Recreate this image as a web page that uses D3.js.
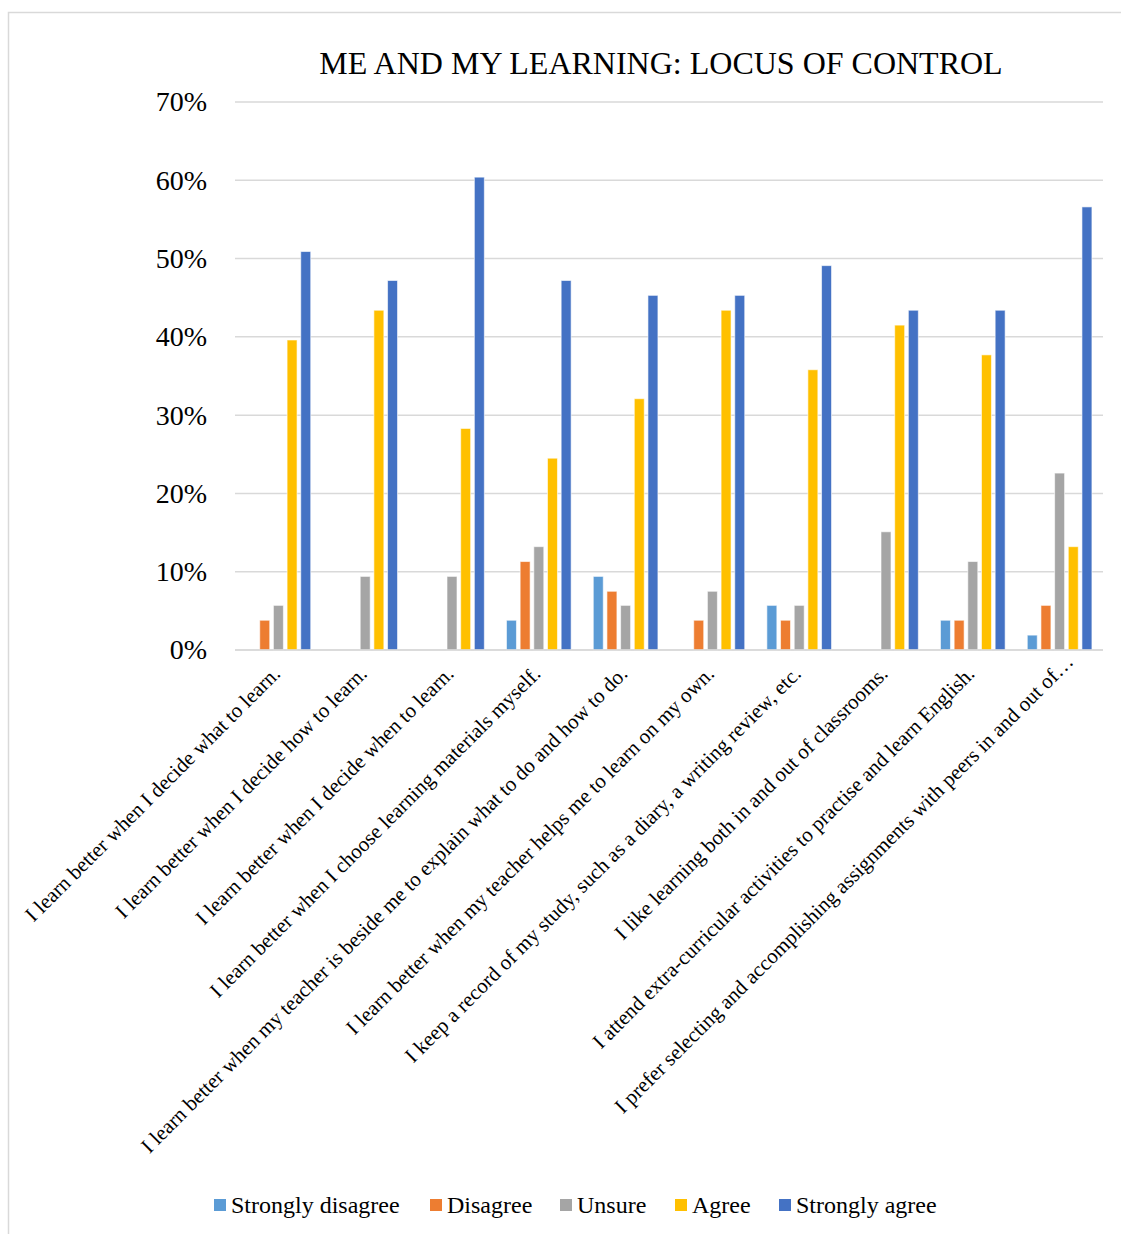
<!DOCTYPE html>
<html>
<head>
<meta charset="utf-8">
<script src="https://cdn.jsdelivr.net/npm/d3@7"></script>
<style>
  html, body { margin: 0; padding: 0; background: #fff; }
  svg { display: block; font-family: "Liberation Serif", "Times New Roman", serif; }
</style>
</head>
<body>
<svg id="chart" width="1121" height="1234"></svg>
<script>
// Survey statements (category axis)
const categories = [
  "I learn better when I decide what to learn.",
  "I learn better when I decide how to learn.",
  "I learn better when I decide when to learn.",
  "I learn better when I choose learning materials myself.",
  "I learn better when my teacher is beside me to explain what to do and how to do.",
  "I learn better when my teacher helps me to learn on my own.",
  "I keep a record of my study, such as a diary, a writing review, etc.",
  "I like learning both in and out of classrooms.",
  "I attend extra-curricular activities to practise and learn English.",
  "I prefer selecting and accomplishing assignments with peers in and out of\u2026"
];

const seriesNames = ["Strongly disagree", "Disagree", "Unsure", "Agree", "Strongly agree"];

// Share of respondents per answer, in percent
const stronglyDisagree = [0, 0, 0, 3.8, 9.4, 0, 5.7, 0, 3.8, 1.9];
const disagree         = [3.8, 0, 0, 11.3, 7.5, 3.8, 3.8, 0, 3.8, 5.7];
const unsure           = [5.7, 9.4, 9.4, 13.2, 5.7, 7.5, 5.7, 15.1, 11.3, 22.6];
const agree            = [39.6, 43.4, 28.3, 24.5, 32.1, 43.4, 35.8, 41.5, 37.7, 13.2];
const stronglyAgree    = [50.9, 47.2, 60.4, 47.2, 45.3, 45.3, 49.1, 43.4, 43.4, 56.6];

const yTicks = [0, 10, 20, 30, 40, 50, 60, 70];

const seriesValues = [stronglyDisagree, disagree, unsure, agree, stronglyAgree];
const colors = ["#5B9BD5", "#ED7D31", "#A5A5A5", "#FFC000", "#4472C4"];

const svg = d3.select("#chart");

// Outer frame
svg.append("rect")
  .attr("x", 8.5).attr("y", 12.5)
  .attr("width", 1130).attr("height", 1240)
  .attr("fill", "none").attr("stroke", "#d9d9d9").attr("stroke-width", 1.5);

const plot = { left: 235, right: 1103, top: 102, bottom: 650 };

const x = d3.scaleBand().domain(d3.range(categories.length))
  .range([plot.left, plot.right]).paddingInner(0).paddingOuter(0);
const xInner = d3.scaleBand().domain(d3.range(seriesNames.length))
  .range([0, x.bandwidth()]).paddingInner(0.27).paddingOuter(0.81);
const y = d3.scaleLinear().domain([0, 70]).range([plot.bottom, plot.top]);

// Title
svg.append("text")
  .attr("x", 661).attr("y", 74)
  .attr("text-anchor", "middle")
  .attr("font-size", 32).attr("fill", "#000")
  .text("ME AND MY LEARNING: LOCUS OF CONTROL");

// Gridlines
svg.append("g").selectAll("line").data(yTicks).join("line")
  .attr("x1", plot.left).attr("x2", plot.right)
  .attr("y1", d => y(d)).attr("y2", d => y(d))
  .attr("stroke", "#d9d9d9").attr("stroke-width", 1.5);

// Y axis labels
const yAxis = d3.axisLeft(y).tickValues(yTicks).tickFormat(d => d + "%").tickSize(0).tickPadding(28);
const yg = svg.append("g").attr("transform", `translate(${plot.left},0)`).call(yAxis);
yg.select(".domain").remove();
yg.selectAll("text")
  .attr("font-family", "'Liberation Serif', 'Times New Roman', serif")
  .attr("font-size", 28).attr("fill", "#000");

// Bars
const groups = svg.append("g").selectAll("g").data(categories).join("g")
  .attr("transform", (d, i) => `translate(${x(i)},0)`);

groups.each(function(_, ci) {
  d3.select(this).selectAll("rect")
    .data(seriesValues.map((vals, si) => ({ si, v: vals[ci] })).filter(d => d.v > 0))
    .join("rect")
    .attr("x", d => xInner(d.si))
    .attr("width", xInner.bandwidth())
    .attr("y", d => y(d.v))
    .attr("height", d => y(0) - y(d.v))
    .attr("fill", d => colors[d.si])
    .attr("stroke", "#ffffff").attr("stroke-opacity", 0.6).attr("stroke-width", 1);
});

// Baseline
svg.append("line")
  .attr("x1", plot.left).attr("x2", plot.right)
  .attr("y1", y(0)).attr("y2", y(0))
  .attr("stroke", "#d9d9d9").attr("stroke-width", 1.5);

// Category labels, rotated; a truncated label sits a little further out
svg.append("g").selectAll("text").data(categories).join("text")
  .attr("transform", (d, i) => {
    const shift = d.endsWith("\u2026") ? 12 : 0;
    return `translate(${x(i) + x.bandwidth() / 2 + 3 + shift},${plot.bottom + 25 - shift}) rotate(-45)`;
  })
  .attr("text-anchor", "end")
  .attr("font-size", 21).attr("fill", "#000")
  .text(d => d);

// Legend
const legendX = [214, 430, 560, 675, 779];
const lg = svg.append("g").selectAll("g").data(seriesNames).join("g")
  .attr("transform", (d, i) => `translate(${legendX[i]},1199)`);
lg.append("rect").attr("width", 12).attr("height", 12).attr("fill", (d, i) => colors[i]);
lg.append("text").attr("x", 17).attr("y", 14)
  .attr("font-size", 24).attr("fill", "#000").text(d => d);
</script>
</body>
</html>
